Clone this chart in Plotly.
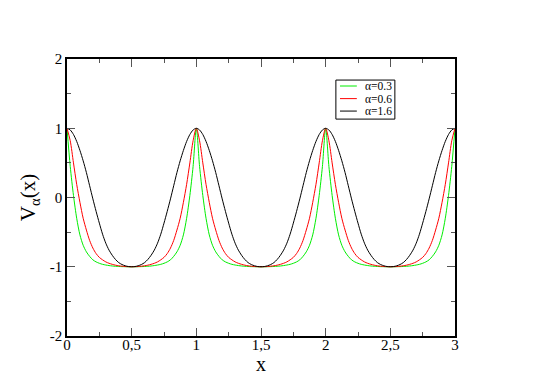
import plotly.graph_objects as go

x_vals = [round(i * 0.025, 3) for i in range(121)]

v_alpha_03 = [
    1.0, 0.45, 0.03, -0.30, -0.54, -0.69, -0.785, -0.85, -0.90, -0.93, -0.95, -0.965, -0.975, -0.983, -0.989, -0.993, -0.996, -0.998, -0.999, -1.0,
    -1.0, -1.0, -0.999, -0.998, -0.996, -0.993, -0.989, -0.983, -0.975, -0.965, -0.95, -0.93, -0.90, -0.85, -0.785, -0.69, -0.54, -0.30, 0.03, 0.45,
    1.0, 0.45, 0.03, -0.30, -0.54, -0.69, -0.785, -0.85, -0.90, -0.93, -0.95, -0.965, -0.975, -0.983, -0.989, -0.993, -0.996, -0.998, -0.999, -1.0,
    -1.0, -1.0, -0.999, -0.998, -0.996, -0.993, -0.989, -0.983, -0.975, -0.965, -0.95, -0.93, -0.90, -0.85, -0.785, -0.69, -0.54, -0.30, 0.03, 0.45,
    1.0, 0.45, 0.03, -0.30, -0.54, -0.69, -0.785, -0.85, -0.90, -0.93, -0.95, -0.965, -0.975, -0.983, -0.989, -0.993, -0.996, -0.998, -0.999, -1.0,
    -1.0, -1.0, -0.999, -0.998, -0.996, -0.993, -0.989, -0.983, -0.975, -0.965, -0.95, -0.93, -0.90, -0.85, -0.785, -0.69, -0.54, -0.30, 0.03, 0.45,
    1.0,
]
v_alpha_06 = [
    1.0, 0.82, 0.50, 0.19, -0.07, -0.30, -0.47, -0.62, -0.73, -0.81, -0.865, -0.90, -0.93, -0.95, -0.965, -0.977, -0.986, -0.992, -0.997, -0.999,
    -1.0, -0.999, -0.997, -0.992, -0.986, -0.977, -0.965, -0.95, -0.93, -0.90, -0.865, -0.81, -0.73, -0.62, -0.47, -0.30, -0.07, 0.19, 0.50, 0.82,
    1.0, 0.82, 0.50, 0.19, -0.07, -0.30, -0.47, -0.62, -0.73, -0.81, -0.865, -0.90, -0.93, -0.95, -0.965, -0.977, -0.986, -0.992, -0.997, -0.999,
    -1.0, -0.999, -0.997, -0.992, -0.986, -0.977, -0.965, -0.95, -0.93, -0.90, -0.865, -0.81, -0.73, -0.62, -0.47, -0.30, -0.07, 0.19, 0.50, 0.82,
    1.0, 0.82, 0.50, 0.19, -0.07, -0.30, -0.47, -0.62, -0.73, -0.81, -0.865, -0.90, -0.93, -0.95, -0.965, -0.977, -0.986, -0.992, -0.997, -0.999,
    -1.0, -0.999, -0.997, -0.992, -0.986, -0.977, -0.965, -0.95, -0.93, -0.90, -0.865, -0.81, -0.73, -0.62, -0.47, -0.30, -0.07, 0.19, 0.50, 0.82,
    1.0,
]
v_alpha_16 = [
    1.0, 0.975, 0.91, 0.81, 0.68, 0.53, 0.36, 0.17, -0.02, -0.20, -0.37, -0.53, -0.66, -0.76, -0.835, -0.895, -0.94, -0.968, -0.986, -0.997,
    -1.0, -0.997, -0.986, -0.968, -0.94, -0.895, -0.835, -0.76, -0.66, -0.53, -0.37, -0.20, -0.02, 0.17, 0.36, 0.53, 0.68, 0.81, 0.91, 0.975,
    1.0, 0.975, 0.91, 0.81, 0.68, 0.53, 0.36, 0.17, -0.02, -0.20, -0.37, -0.53, -0.66, -0.76, -0.835, -0.895, -0.94, -0.968, -0.986, -0.997,
    -1.0, -0.997, -0.986, -0.968, -0.94, -0.895, -0.835, -0.76, -0.66, -0.53, -0.37, -0.20, -0.02, 0.17, 0.36, 0.53, 0.68, 0.81, 0.91, 0.975,
    1.0, 0.975, 0.91, 0.81, 0.68, 0.53, 0.36, 0.17, -0.02, -0.20, -0.37, -0.53, -0.66, -0.76, -0.835, -0.895, -0.94, -0.968, -0.986, -0.997,
    -1.0, -0.997, -0.986, -0.968, -0.94, -0.895, -0.835, -0.76, -0.66, -0.53, -0.37, -0.20, -0.02, 0.17, 0.36, 0.53, 0.68, 0.81, 0.91, 0.975,
    1.0,
]

series_names = ["α=0.3", "α=0.6", "α=1.6"]
series_colors = ["#00ee00", "#ff0000", "#000000"]
series_values = [v_alpha_03, v_alpha_06, v_alpha_16]

x_tick_vals = [0, 0.5, 1, 1.5, 2, 2.5, 3]
x_tick_text = ["0", "0,5", "1", "1,5", "2", "2,5", "3"]
y_tick_vals = [-2, -1, 0, 1, 2]
y_tick_text = ["-2", "-1", "0", "1", "2"]

serif = "Liberation Serif"

fig = go.Figure()
for name, color, vals in zip(series_names, series_colors, series_values):
    fig.add_trace(go.Scatter(
        x=x_vals, y=vals, mode="lines", name=name, showlegend=False,
        line=dict(color=color, width=1, shape="spline", smoothing=0.8),
    ))

# hand-drawn legend box (compact, like the original)
shapes = [dict(type="rect", xref="paper", yref="paper", x0=0.693, x1=0.845, y0=0.783, y1=0.924,
               line=dict(color="black", width=1), fillcolor="white", layer="above")]
annotations = []
legend_rows = [0.9025, 0.857, 0.812]
for name, color, yy in zip(series_names, series_colors, legend_rows):
    shapes.append(dict(type="line", xref="paper", yref="paper", x0=0.7036, x1=0.747, y0=yy, y1=yy,
                       line=dict(color=color, width=1), layer="above"))
    annotations.append(dict(xref="paper", yref="paper", x=0.765, y=yy, xanchor="left", yanchor="middle",
                            text=name, showarrow=False, font=dict(family=serif, size=11.5, color="black"),
                            borderpad=0))

annotations.append(dict(xref="paper", yref="paper", x=0.5, y=-0.101, xanchor="center", yanchor="middle",
                        text="x", showarrow=False, font=dict(family=serif, size=20, color="black"),
                        borderpad=0))

axis_common = dict(
    showgrid=False, zeroline=False, showline=True, linecolor="black", linewidth=1.5,
    mirror="ticks", ticks="inside", ticklen=8, tickwidth=1, tickcolor="#555",
    tickfont=dict(family=serif, size=15, color="black"),
)

fig.update_layout(
    width=529, height=369,
    margin=dict(l=59, r=82, t=51, b=41),
    paper_bgcolor="white", plot_bgcolor="white",
    showlegend=False,
    shapes=shapes, annotations=annotations,
    font=dict(family=serif, color="black"),
    xaxis=dict(
        range=[0, 3], tickvals=x_tick_vals, ticktext=x_tick_text,
        minor=dict(dtick=0.25, ticks="inside", ticklen=4, tickcolor="#555"),
        ticklabelstandoff=-6,
        **axis_common,
    ),
    yaxis=dict(
        range=[-2, 2], tickvals=y_tick_vals, ticktext=y_tick_text,
        minor=dict(dtick=0.5, ticks="inside", ticklen=4, tickcolor="#555"),
        title=dict(text="V<sub>α</sub>(x)", font=dict(family=serif, size=21, color="black"), standoff=8),
        **axis_common,
    ),
)

fig.write_html("out.html")
